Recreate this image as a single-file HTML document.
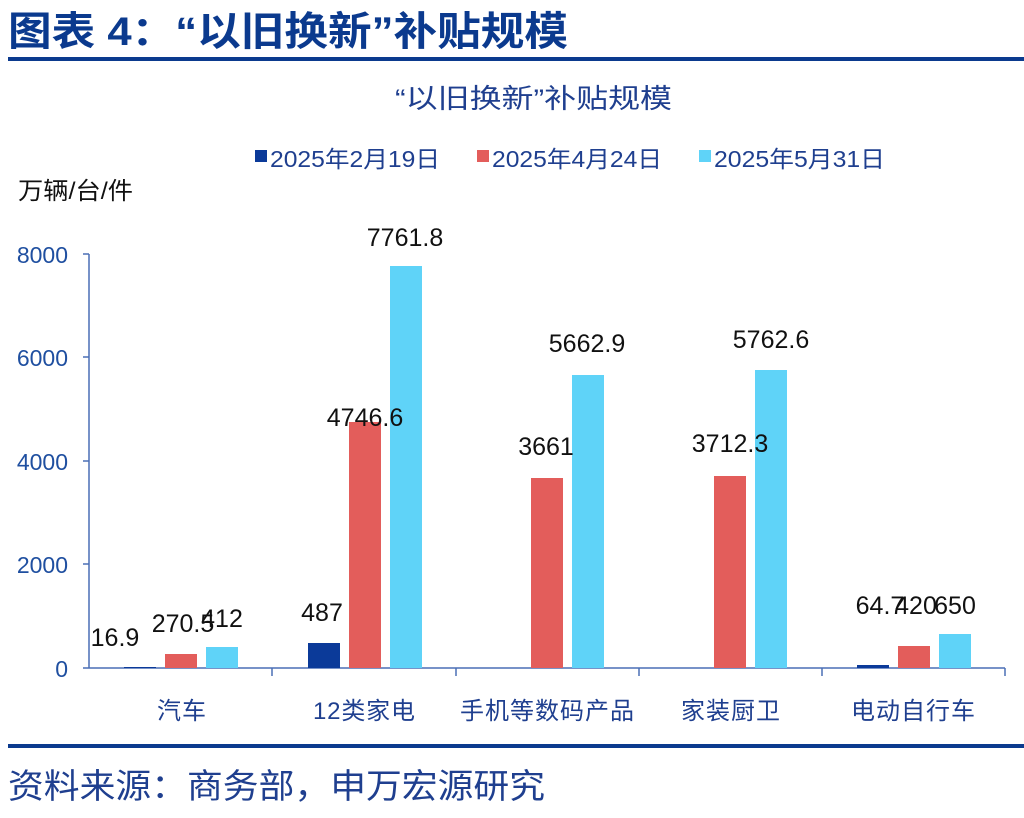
<!DOCTYPE html>
<html><head><meta charset="utf-8"><style>
body{margin:0;width:1024px;height:813px;background:#fff;overflow:hidden}
svg text{font-family:"Liberation Sans","Noto Sans CJK SC",sans-serif}
</style></head><body>
<svg width="1024" height="813" xmlns="http://www.w3.org/2000/svg">
<text x="8" y="45" font-size="40" font-weight="bold" fill="#0b3a8e" textLength="560" lengthAdjust="spacingAndGlyphs">图表 4：“以旧换新”补贴规模</text>
<rect x="8" y="57" width="1016" height="4" fill="#0b3a8e"/>
<text x="395" y="108" font-size="27" fill="#1f3f8f" textLength="277" lengthAdjust="spacingAndGlyphs">“以旧换新”补贴规模</text>
<rect x="255" y="150" width="12" height="12" fill="#0b3a99"/>
<text x="270" y="167" font-size="23" fill="#1f3f8f" textLength="170" lengthAdjust="spacingAndGlyphs">2025年2月19日</text>
<rect x="477" y="150" width="12" height="12" fill="#e35d5b"/>
<text x="492" y="167" font-size="23" fill="#1f3f8f" textLength="170" lengthAdjust="spacingAndGlyphs">2025年4月24日</text>
<rect x="699" y="150" width="12" height="12" fill="#5fd3f8"/>
<text x="714" y="167" font-size="23" fill="#1f3f8f" textLength="171" lengthAdjust="spacingAndGlyphs">2025年5月31日</text>
<text x="18" y="199" font-size="24" fill="#111" textLength="115" lengthAdjust="spacingAndGlyphs">万辆/台/件</text>
<g font-size="23" fill="#1f4fa0" text-anchor="end">
<text x="68" y="263">8000</text><text x="68" y="366">6000</text><text x="68" y="470">4000</text><text x="68" y="573">2000</text><text x="68" y="677">0</text>
</g>
<g stroke="#4a6fb5" stroke-width="1.5">
<line x1="89" y1="254" x2="89" y2="668"/>
<line x1="83" y1="254" x2="89" y2="254"/><line x1="83" y1="357" x2="89" y2="357"/><line x1="83" y1="461" x2="89" y2="461"/><line x1="83" y1="564" x2="89" y2="564"/>
<line x1="83" y1="668" x2="1005" y2="668"/>
<line x1="272" y1="668" x2="272" y2="676"/><line x1="456" y1="668" x2="456" y2="676"/><line x1="639" y1="668" x2="639" y2="676"/><line x1="822" y1="668" x2="822" y2="676"/><line x1="1005" y1="668" x2="1005" y2="676"/>
</g>
<g>
<rect x="124" y="667" width="32" height="1" fill="#0b3a99"/>
<rect x="165" y="654" width="32" height="14" fill="#e35d5b"/>
<rect x="206" y="647" width="32" height="21" fill="#5fd3f8"/>
<rect x="308" y="643" width="32" height="25" fill="#0b3a99"/>
<rect x="349" y="422" width="32" height="246" fill="#e35d5b"/>
<rect x="390" y="266" width="32" height="402" fill="#5fd3f8"/>
<rect x="531" y="478" width="32" height="190" fill="#e35d5b"/>
<rect x="572" y="375" width="32" height="293" fill="#5fd3f8"/>
<rect x="714" y="476" width="32" height="192" fill="#e35d5b"/>
<rect x="755" y="370" width="32" height="298" fill="#5fd3f8"/>
<rect x="857" y="665" width="32" height="3" fill="#0b3a99"/>
<rect x="898" y="646" width="32" height="22" fill="#e35d5b"/>
<rect x="939" y="634" width="32" height="34" fill="#5fd3f8"/>
</g>
<g font-size="25" fill="#111" text-anchor="middle">
<text x="115" y="646">16.9</text><text x="183" y="632">270.5</text><text x="222" y="627">412</text>
<text x="322" y="621">487</text><text x="365" y="426">4746.6</text><text x="405" y="246">7761.8</text>
<text x="546" y="455">3661</text><text x="587" y="352">5662.9</text>
<text x="730" y="452">3712.3</text><text x="771" y="348">5762.6</text>
<text x="880" y="614">64.7</text><text x="916" y="614">420</text><text x="955" y="614">650</text>
</g>
<g font-size="24" fill="#1f3f8f" lengthAdjust="spacingAndGlyphs">
<text x="157" y="719" textLength="49">汽车</text><text x="313" y="719" textLength="102">12类家电</text><text x="460" y="719" textLength="174">手机等数码产品</text><text x="681" y="719" textLength="99">家装厨卫</text><text x="851" y="719" textLength="124">电动自行车</text>
</g>
<rect x="8" y="744" width="1016" height="4" fill="#0b3a8e"/>
<text x="8" y="798" font-size="34" fill="#1f3f8f" textLength="537" lengthAdjust="spacingAndGlyphs">资料来源：商务部，申万宏源研究</text>
</svg>
</body></html>
